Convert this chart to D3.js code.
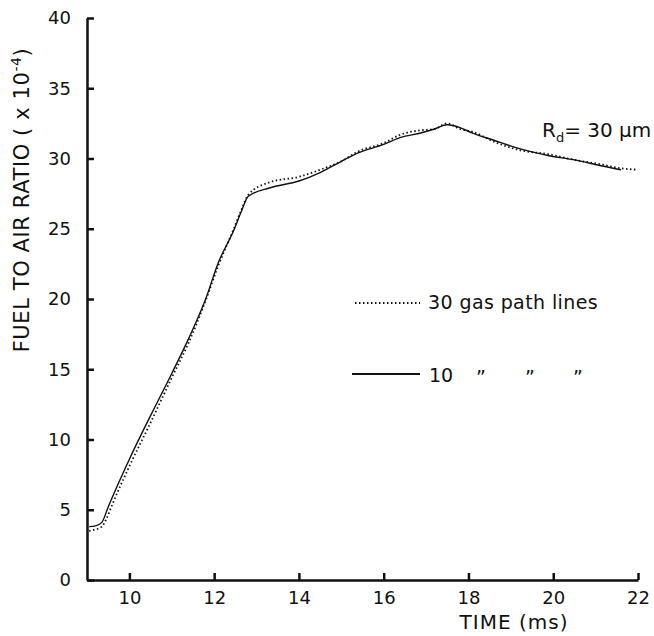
<!DOCTYPE html>
<html>
<head>
<meta charset="utf-8">
<script src="https://cdn.jsdelivr.net/npm/d3@7"></script>
<style>
  body { margin: 0; background: #fff; }
  svg { display: block; }
  text { font-family: "DejaVu Sans", sans-serif; fill: #111; }
</style>
</head>
<body>
<svg id="chart"></svg>
<script>
// ---- data ----
const xTicks = [10, 12, 14, 16, 18, 20, 22];
const yTicks = [0, 5, 10, 15, 20, 25, 30, 35, 40];

// 30 gas path lines (dotted)
const time30 = [9.05, 9.2, 9.35, 9.45, 9.6, 10.0, 10.5, 11.0, 11.4, 11.8, 12.1, 12.45, 12.65, 12.8, 13.3, 14.0, 14.5, 15.0, 15.4, 16.0, 16.4, 16.85, 17.2, 17.5, 17.8, 18.1, 18.6, 19.2, 19.9, 20.5, 21.1, 21.6, 22.0];
const far30  = [3.5, 3.6, 3.8, 4.3, 5.4, 8.1, 11.2, 14.4, 16.9, 19.9, 22.4, 24.9, 26.4, 27.4, 28.3, 28.7, 29.2, 29.8, 30.5, 31.1, 31.7, 32.0, 32.1, 32.5, 32.1, 31.9, 31.2, 30.6, 30.3, 29.9, 29.6, 29.3, 29.2];

// 10 gas path lines (solid)
const time10 = [9.05, 9.2, 9.35, 9.5, 9.7, 10.0, 10.5, 11.0, 11.4, 11.8, 12.1, 12.45, 12.65, 12.8, 13.3, 14.0, 14.5, 15.0, 15.4, 16.0, 16.4, 16.85, 17.2, 17.5, 17.8, 18.1, 18.6, 19.2, 19.9, 20.5, 21.1, 21.6];
const far10  = [3.8, 3.85, 4.1, 5.2, 6.6, 8.6, 11.7, 14.7, 17.2, 20.0, 22.6, 24.8, 26.3, 27.3, 27.9, 28.4, 29.0, 29.8, 30.4, 31.0, 31.5, 31.8, 32.1, 32.4, 32.2, 31.8, 31.3, 30.7, 30.2, 29.9, 29.5, 29.2];

const width = 654;
const height = 636;

const svg = d3.select("#chart")
  .attr("width", width)
  .attr("height", height);

const x = d3.scaleLinear().domain([9, 22]).range([87, 638]);
const y = d3.scaleLinear().domain([0, 40]).range([580, 18]);

// axes -- ticks point inward like the original drawing
const xAxis = svg.append("g")
  .attr("transform", `translate(0,${y(0)})`)
  .call(d3.axisBottom(x).tickValues(xTicks).tickSizeInner(-7).tickSizeOuter(0).tickPadding(11).tickFormat(d3.format("d")));

const yAxis = svg.append("g")
  .attr("transform", `translate(${x(9)},0)`)
  .call(d3.axisLeft(y).tickValues(yTicks).tickSizeInner(-7).tickSizeOuter(0).tickPadding(16).tickFormat(d3.format("d")));

[xAxis, yAxis].forEach(g => {
  g.selectAll("path, line").attr("stroke", "#111").attr("stroke-width", 2.5);
  g.selectAll("text").attr("font-size", "18px").attr("fill", "#111");
});

// axis titles
svg.append("text")
  .attr("x", 514)
  .attr("y", 629)
  .attr("text-anchor", "middle")
  .attr("font-size", "20px")
  .attr("letter-spacing", "1px")
  .text("TIME (ms)");

const yl = svg.append("text")
  .attr("transform", `translate(29,200) rotate(-90)`)
  .attr("text-anchor", "middle")
  .attr("font-size", "21px")
  .attr("letter-spacing", "0.6px");
yl.append("tspan").text("FUEL TO AIR RATIO ( x 10");
yl.append("tspan").attr("font-size", "14px").attr("dy", "-8").text("-4");
yl.append("tspan").attr("dy", "8").text(")");

// curves
const line = d3.line()
  .x(d => x(d[0]))
  .y(d => y(d[1]))
  .curve(d3.curveMonotoneX);

svg.append("path")
  .datum(d3.zip(time30, far30))
  .attr("d", line)
  .attr("fill", "none")
  .attr("stroke", "#111")
  .attr("stroke-width", 1.8)
  .attr("stroke-dasharray", "1.5,2.5");

svg.append("path")
  .datum(d3.zip(time10, far10))
  .attr("d", line)
  .attr("fill", "none")
  .attr("stroke", "#111")
  .attr("stroke-width", 1.4);

// legend
svg.append("line")
  .attr("x1", 355).attr("x2", 420)
  .attr("y1", 303).attr("y2", 303)
  .attr("stroke", "#111").attr("stroke-width", 1.8)
  .attr("stroke-dasharray", "1.5,2.5");
svg.append("text")
  .attr("x", 428).attr("y", 309)
  .attr("font-size", "19px")
  .attr("letter-spacing", "0.4px")
  .text("30 gas path lines");

svg.append("line")
  .attr("x1", 352).attr("x2", 420)
  .attr("y1", 374).attr("y2", 374)
  .attr("stroke", "#111").attr("stroke-width", 2);
svg.append("text")
  .attr("x", 429).attr("y", 382)
  .attr("font-size", "19px")
  .text("10");
[476, 525, 573].forEach(px => {
  svg.append("text")
    .attr("x", px).attr("y", 384)
    .attr("font-size", "19px")
    .text("\u201D");
});

// droplet radius annotation
const rd = svg.append("text")
  .attr("x", 542).attr("y", 137)
  .attr("font-size", "20px");
rd.append("tspan").text("R");
rd.append("tspan").attr("font-size", "13px").attr("dy", "5").text("d");
rd.append("tspan").attr("dy", "-5").text("= 30 \u03BCm");
</script>
</body>
</html>
